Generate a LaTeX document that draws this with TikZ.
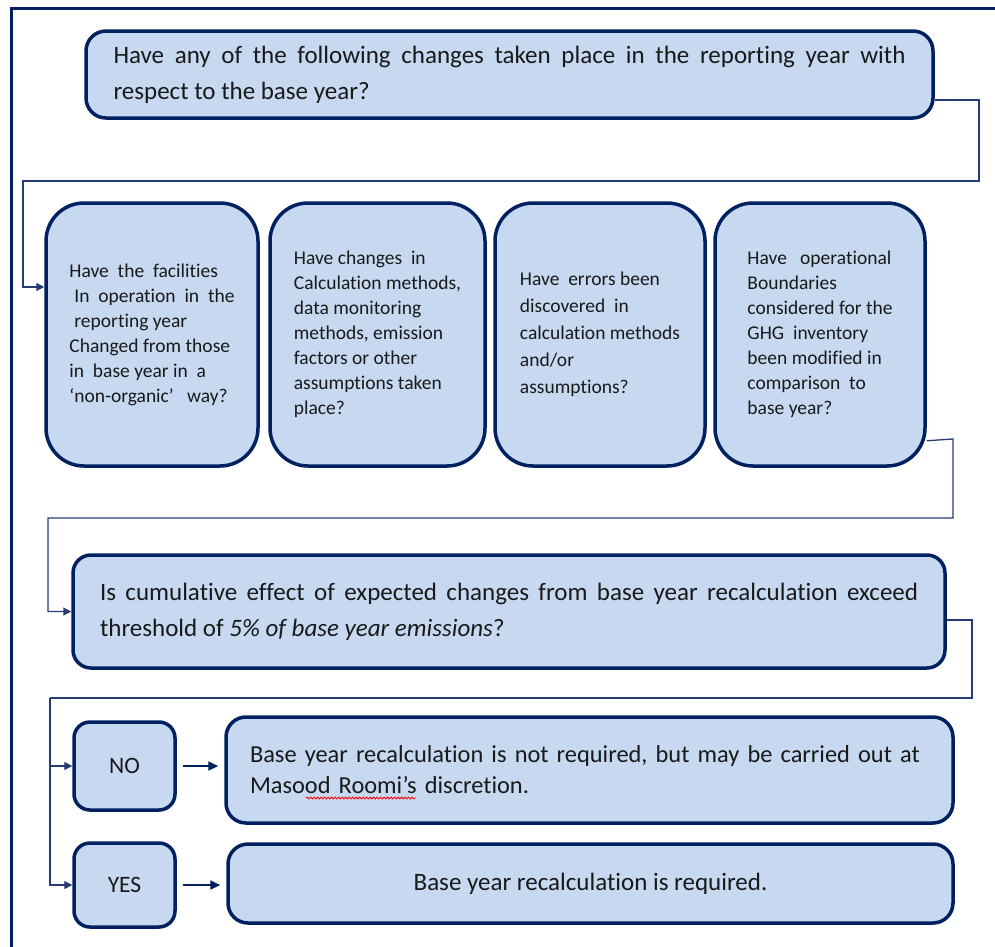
\documentclass[tikz,border=0pt]{standalone}
\usepackage{fontspec}
\setmainfont{Carlito}[Ligatures={TeX,NoCommon}]
\usetikzlibrary{arrows.meta,decorations.pathmorphing}
\definecolor{navy}{RGB}{0,32,96}
\definecolor{boxblue}{RGB}{198,217,240}
\definecolor{linkblue}{RGB}{38,60,118}

\begin{document}
\begin{tikzpicture}[x=1pt,y=-1pt,
  box/.style={draw=navy,line width=3.5pt,fill=boxblue,rounded corners=20pt,inner sep=0pt,text=black!90},
  qbox/.style={box,font=\fontsize{25}{36}\selectfont},
  cbox/.style={box,rounded corners=38pt,minimum width=#1,minimum height=263pt,align=left,font=\fontsize{19.5}{25}\selectfont},
  ansbox/.style={box,rounded corners=16pt,minimum width=101pt,font=\fontsize{23.5}{28}\selectfont},
  link/.style={draw=linkblue,line width=1.3pt},
  tip/.style={-{Triangle[length=8pt,width=8pt]}},
  bigtip/.style={draw=navy,line width=2pt,-{Triangle[length=10pt,width=9pt]}}]
  \useasboundingbox (0,0) rectangle (995,946);
  \draw[navy,line width=3pt] (11,960) -- (11,8) -- (1010,8);

  \node[qbox,minimum width=847pt,minimum height=87pt,text width=792pt,align=justify] (q) at (509.5,74.5)
    {Have any of the following changes taken place in the reporting year with\linebreak respect to the base year?};

  \node[cbox=212pt] (c1) at (152,334.5)
    {Have\ \ the\ \ facilities\\ \hspace{5pt}In\ \ operation\ \ in\ \ the\\ \hspace{5pt}reporting year\\Changed from those\\in\ \ base year in\ \ a\\`non-organic'\ \ \ way?};
  \node[cbox=215pt] (c2) at (377.5,334.5)
    {Have changes\ \ in\\Calculation methods,\\data monitoring\\methods, emission\\factors or other\\assumptions taken\\place?};
  \node[cbox=210pt,font=\fontsize{19.5}{27}\selectfont] (c3) at (600,334.5)
    {Have\ \ errors been\\discovered\ \ in\\calculation methods\\and/or\\assumptions?};
  \node[cbox=210pt] (c4) at (820,334.5)
    {Have\ \ \ operational\\Boundaries\\considered for the\\GHG\ \ inventory\\been modified in\\comparison\ \ to\\base year?};

  \node[qbox,rounded corners=18pt,minimum width=872pt,minimum height=113pt,text width=818pt,align=justify] (thr) at (509,611.5)
    {Is cumulative effect of expected changes from base year recalculation exceed\linebreak threshold of \textit{5\% of base year emissions}?};

  \node[ansbox,minimum height=88pt] (no) at (124.5,766) {NO};
  \node[ansbox,minimum height=84pt] (yes) at (124.5,885) {YES};
  \node[qbox,font=\fontsize{24.4}{31}\selectfont,minimum width=727pt,minimum height=106pt,text width=679pt,align=left] (nores) at (589.5,770)
    {\mbox{Base year recalculation is not required, but may be carried out at}\\Masood Roomi's discretion.};
  \node[qbox,minimum width=725pt,minimum height=79pt] (yesres) at (590.5,883.5)
    {Base year recalculation is required.};
  \draw[red,line width=0.8pt,decorate,decoration={snake,amplitude=1pt,segment length=3.5pt}] (306,798) -- (416,798);

  \draw[link,tip] ([yshift=-25.5pt]q.east) -- (979,100) -- (979,181) -- (23,181) |- ([yshift=47.5pt]c1.west);
  \draw[link,tip] ([yshift=27pt]c4.south east) -- (953,439) -- (953,518) -- (48,518) |- (thr.west);
  \coordinate (split) at (50,698);
  \draw[link] ([yshift=-8.5pt]thr.east) -- (972,620) -- (972,698) -- (split);
  \draw[link,tip] (split) |- (no.west);
  \draw[link,tip] (split) |- (yes.west);
  \draw[bigtip,shorten <=6pt,shorten >=6pt] (no.east) -- (no.east -| nores.west);
  \draw[bigtip,shorten <=6pt,shorten >=6pt] (yes.east) -- (yes.east -| yesres.west);
\end{tikzpicture}
\end{document}
